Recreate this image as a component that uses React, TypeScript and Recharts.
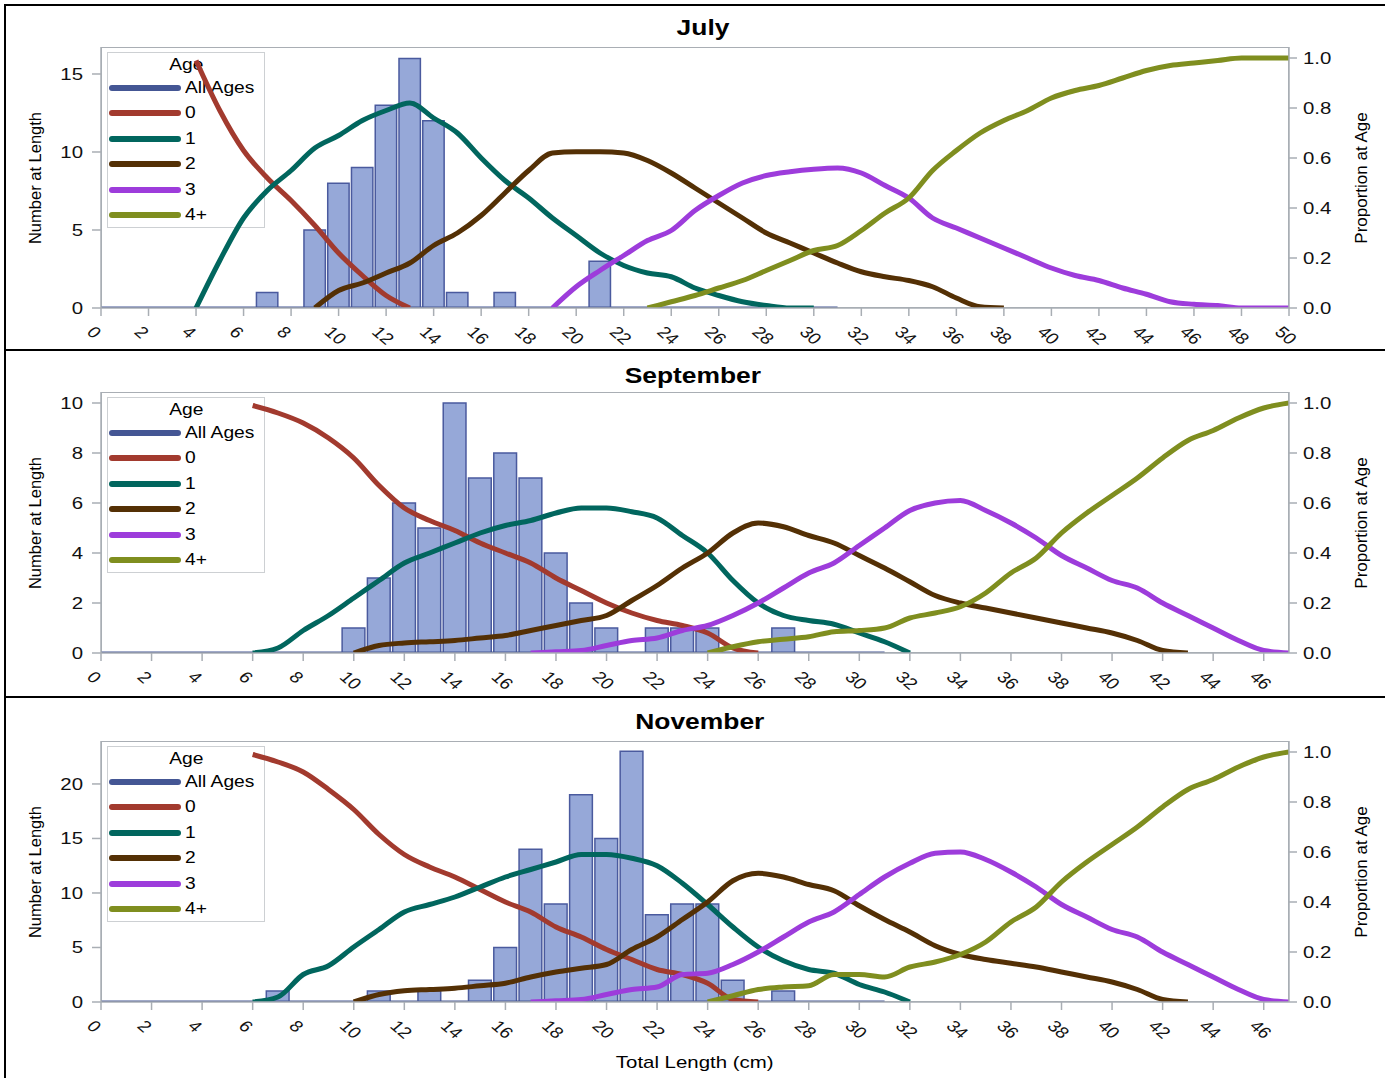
import React from 'react';
import { ComposedChart, Bar, Line, XAxis, YAxis } from 'recharts';

const FONT = "'Liberation Sans', Arial, Helvetica, sans-serif";
const AXIS = '#a9aeb4';
const STRETCH = 1.2;

const ageLabels = ['All Ages', '0', '1', '2', '3', '4+'];
const ageColors = ['#445694', '#a23a2e', '#01665e', '#543005', '#9d3cdb', '#7f8e1f'];

const julyTicks = [0, 2, 4, 6, 8, 10, 12, 14, 16, 18, 20, 22, 24, 26, 28, 30, 32, 34, 36, 38, 40, 42, 44, 46, 48, 50];
const sepNovTicks = [0, 2, 4, 6, 8, 10, 12, 14, 16, 18, 20, 22, 24, 26, 28, 30, 32, 34, 36, 38, 40, 42, 44, 46];
const propTicks = [0, 0.2, 0.4, 0.6, 0.8, 1.0];

// ---- July ----
const julyBarLen = [7, 9, 10, 11, 12, 13, 14, 15, 17, 21];
const julyBarCount = [1, 5, 8, 9, 13, 16, 12, 1, 1, 3];
const julyAllEnd = 31;
const julyAge0From = 4;
const julyAge0 = [0.99, 0.79, 0.63, 0.52, 0.43, 0.33, 0.22, 0.13, 0.05, 0];
const julyAge1From = 4;
const julyAge1 = [0, 0.19, 0.36, 0.47, 0.55, 0.64, 0.69, 0.75, 0.79, 0.82, 0.76, 0.7, 0.6, 0.51, 0.44, 0.36, 0.29, 0.22, 0.17, 0.14, 0.125, 0.08, 0.05, 0.025, 0.01, 0, 0];
const julyAge2From = 9;
const julyAge2 = [0, 0.07, 0.1, 0.14, 0.18, 0.25, 0.3, 0.37, 0.46, 0.55, 0.62, 0.625, 0.625, 0.62, 0.59, 0.54, 0.48, 0.42, 0.36, 0.3, 0.26, 0.22, 0.18, 0.145, 0.125, 0.11, 0.085, 0.04, 0.005, 0];
const julyAge3From = 19;
const julyAge3 = [0, 0.085, 0.15, 0.21, 0.27, 0.31, 0.39, 0.45, 0.5, 0.53, 0.545, 0.555, 0.56, 0.54, 0.49, 0.44, 0.36, 0.32, 0.28, 0.24, 0.2, 0.16, 0.13, 0.11, 0.08, 0.055, 0.025, 0.015, 0.01, 0, 0, 0];
const julyAge4From = 23;
const julyAge4 = [0, 0.025, 0.05, 0.08, 0.11, 0.15, 0.19, 0.23, 0.25, 0.31, 0.38, 0.44, 0.55, 0.63, 0.7, 0.75, 0.79, 0.84, 0.87, 0.89, 0.92, 0.95, 0.97, 0.98, 0.99, 1, 1, 1];

// ---- September ----
const sepBarLen = [10, 11, 12, 13, 14, 15, 16, 17, 18, 19, 20, 22, 23, 24, 27];
const sepBarCount = [1, 3, 6, 5, 10, 7, 8, 7, 4, 2, 1, 1, 1, 1, 1];
const sepAllEnd = 31;
const sepAge0From = 6;
const sepAge0 = [0.99, 0.96, 0.92, 0.86, 0.78, 0.67, 0.58, 0.53, 0.49, 0.44, 0.4, 0.36, 0.3, 0.25, 0.2, 0.16, 0.13, 0.11, 0.08, 0.02, 0];
const sepAge1From = 6;
const sepAge1 = [0, 0.02, 0.09, 0.15, 0.22, 0.29, 0.36, 0.4, 0.44, 0.48, 0.51, 0.53, 0.56, 0.58, 0.58, 0.565, 0.54, 0.47, 0.4, 0.29, 0.2, 0.15, 0.13, 0.115, 0.08, 0.045, 0];
const sepAge2From = 10;
const sepAge2 = [0, 0.03, 0.04, 0.045, 0.05, 0.06, 0.07, 0.09, 0.11, 0.13, 0.15, 0.21, 0.27, 0.34, 0.4, 0.48, 0.52, 0.505, 0.47, 0.44, 0.39, 0.34, 0.285, 0.23, 0.2, 0.18, 0.16, 0.14, 0.12, 0.1, 0.08, 0.05, 0.01, 0];
const sepAge3From = 17;
const sepAge3 = [0, 0.005, 0.01, 0.03, 0.05, 0.06, 0.09, 0.11, 0.15, 0.2, 0.26, 0.32, 0.36, 0.43, 0.5, 0.57, 0.6, 0.61, 0.57, 0.52, 0.46, 0.39, 0.34, 0.29, 0.26, 0.2, 0.15, 0.1, 0.05, 0.01, 0];
const sepAge4From = 24;
const sepAge4 = [0, 0.025, 0.045, 0.055, 0.065, 0.085, 0.09, 0.1, 0.14, 0.16, 0.185, 0.24, 0.32, 0.38, 0.48, 0.56, 0.63, 0.7, 0.78, 0.85, 0.89, 0.94, 0.98, 1];

// ---- November ----
const novBarLen = [7, 11, 13, 15, 16, 17, 18, 19, 20, 21, 22, 23, 24, 25, 27];
const novBarCount = [1, 1, 1, 2, 5, 14, 9, 19, 15, 23, 8, 9, 9, 2, 1];
const novAllEnd = 31;
const novAge0From = 6;
const novAge0 = [0.99, 0.96, 0.92, 0.85, 0.77, 0.67, 0.59, 0.54, 0.5, 0.45, 0.4, 0.36, 0.3, 0.26, 0.21, 0.17, 0.13, 0.11, 0.075, 0.01, 0];
const novAge1From = 6;
const novAge1 = [0, 0.02, 0.11, 0.145, 0.22, 0.29, 0.36, 0.39, 0.42, 0.46, 0.5, 0.53, 0.56, 0.59, 0.59, 0.575, 0.545, 0.475, 0.39, 0.3, 0.22, 0.165, 0.13, 0.115, 0.07, 0.04, 0];
const novAge2From = 10;
const novAge2 = [0, 0.03, 0.045, 0.05, 0.055, 0.065, 0.075, 0.1, 0.12, 0.135, 0.15, 0.21, 0.26, 0.33, 0.4, 0.485, 0.515, 0.5, 0.47, 0.445, 0.385, 0.33, 0.28, 0.225, 0.19, 0.17, 0.155, 0.14, 0.12, 0.1, 0.08, 0.05, 0.01, 0];
const novAge3From = 17;
const novAge3 = [0, 0.005, 0.01, 0.03, 0.05, 0.06, 0.11, 0.115, 0.15, 0.2, 0.26, 0.32, 0.36, 0.43, 0.5, 0.555, 0.595, 0.6, 0.57, 0.52, 0.46, 0.39, 0.34, 0.29, 0.26, 0.2, 0.15, 0.1, 0.05, 0.01, 0];
const novAge4From = 24;
const novAge4 = [0, 0.025, 0.05, 0.06, 0.065, 0.11, 0.11, 0.1, 0.14, 0.16, 0.19, 0.24, 0.32, 0.38, 0.48, 0.56, 0.63, 0.7, 0.78, 0.85, 0.89, 0.94, 0.98, 1];

const XTick = (props: any) => {
  const { x, y, payload } = props;
  return (
    <text
      transform={`translate(${x - 10.5},${y + 11}) scale(${STRETCH},1) rotate(45)`}
      dy="0.35em"
      textAnchor="start"
      fontSize={16}
      fontFamily={FONT}
      fill="#111"
    >
      {payload.value}
    </text>
  );
};

const LeftTick = (props: any) => {
  const { x, y, payload } = props;
  return (
    <text transform={`translate(${x},${y}) scale(${STRETCH},1)`} dy="0.35em" textAnchor="end" fontSize={17} fontFamily={FONT} fill="#111">
      {payload.value}
    </text>
  );
};

const RightTick = (props: any) => {
  const { x, y, payload } = props;
  return (
    <text transform={`translate(${x},${y}) scale(${STRETCH},1)`} dy="0.35em" textAnchor="start" fontSize={17} fontFamily={FONT} fill="#111">
      {Number(payload.value).toFixed(1)}
    </text>
  );
};

const Stretched: React.FC<{ children: React.ReactNode; size: number; bold?: boolean }> = ({ children, size, bold }) => (
  <span style={{ display: 'inline-block', transform: `scaleX(${STRETCH})`, fontSize: size, fontWeight: bold ? 'bold' : 'normal', fontFamily: FONT, whiteSpace: 'nowrap' }}>
    {children}
  </span>
);

const AgeLegend: React.FC<{ top: number }> = ({ top }) => (
  <div style={{ position: 'absolute', left: 107, top, width: 158, height: 176, border: '1.5px solid #cdd0d3', boxSizing: 'border-box' }}>
    <div style={{ position: 'absolute', left: 0, width: '100%', top: 2, textAlign: 'center', lineHeight: '20px' }}>
      <Stretched size={16}>Age</Stretched>
    </div>
    {ageLabels.map((label, i) => (
      <div key={label} style={{ position: 'absolute', left: 0, top: 35 + i * 25.4 - 10, height: 20, width: '100%' }}>
        <div style={{ position: 'absolute', left: 1, top: 7, width: 72, height: 6, borderRadius: 3, background: ageColors[i] }} />
        <div style={{ position: 'absolute', left: 77, top: 0, lineHeight: '20px' }}>
          <span style={{ display: 'inline-block', transform: `scaleX(${STRETCH})`, transformOrigin: 'left center', fontSize: 16, fontFamily: FONT, whiteSpace: 'nowrap' }}>{label}</span>
        </div>
      </div>
    ))}
  </div>
);

type PanelProps = {
  top: number;
  height: number;
  plotTop: number;
  title: string;
  titleX: number;
  titleY: number;
  xMax: number;
  xTicks: number[];
  leftMax: number;
  leftTicks: number[];
  barLen: number[];
  barCount: number[];
  allEnd: number;
  ageFrom: number[];
  ageValues: number[][];
  xLabel?: string;
};

const PLOT_LEFT = 101;
const PLOT_RIGHT = 1289;
const PLOT_H = 261;
const WIDTH = 1385;

const Panel: React.FC<PanelProps> = (p) => {
  const rows: any[] = [];
  for (let len = 0; len <= p.xMax; len++) {
    const row: any = { len };
    const bi = p.barLen.indexOf(len);
    row.count = bi >= 0 ? p.barCount[bi] : null;
    row.all = len <= p.allEnd ? 0 : null;
    p.ageValues.forEach((vals, k) => {
      const i = len - p.ageFrom[k];
      row['a' + k] = i >= 0 && i < vals.length ? vals[i] : null;
    });
    rows.push(row);
  }
  const plotW = PLOT_RIGHT - PLOT_LEFT;
  const barSize = plotW / p.xMax;
  const marginBottom = p.height - p.plotTop - PLOT_H - 42;

  return (
    <div style={{ position: 'absolute', left: 0, top: p.top, width: WIDTH, height: p.height }}>
      <div style={{ position: 'absolute', left: PLOT_LEFT, top: p.plotTop, width: plotW, height: PLOT_H, border: `1.5px solid ${AXIS}`, boxSizing: 'border-box' }} />
      <AgeLegend top={p.plotTop + 5} />
      <div style={{ position: 'absolute', left: 0, top: 0 }}>
        <ComposedChart width={WIDTH} height={p.height} data={rows} margin={{ top: p.plotTop, right: 0, bottom: marginBottom, left: 0 }}>
          <XAxis
            dataKey="len"
            type="number"
            domain={[0, p.xMax]}
            ticks={p.xTicks}
            interval={0}
            allowDataOverflow
            height={42}
            tickSize={8}
            tickMargin={2}
            axisLine={{ stroke: AXIS, strokeWidth: 1.5 }}
            tickLine={{ stroke: AXIS, strokeWidth: 1.5 }}
            tick={<XTick />}
          />
          <YAxis
            yAxisId="left"
            orientation="left"
            width={PLOT_LEFT}
            domain={[0, p.leftMax]}
            ticks={p.leftTicks}
            allowDataOverflow
            interval={0}
            tickSize={9}
            tickMargin={9}
            axisLine={{ stroke: AXIS, strokeWidth: 1.5 }}
            tickLine={{ stroke: AXIS, strokeWidth: 1.5 }}
            tick={<LeftTick />}
          />
          <YAxis
            yAxisId="right"
            orientation="right"
            width={WIDTH - PLOT_RIGHT}
            domain={[0, 1.044]}
            ticks={propTicks}
            allowDataOverflow
            interval={0}
            tickSize={8}
            tickMargin={6}
            axisLine={{ stroke: AXIS, strokeWidth: 1.5 }}
            tickLine={{ stroke: AXIS, strokeWidth: 1.5 }}
            tick={<RightTick />}
          />
          <Bar yAxisId="left" dataKey="count" barSize={barSize} fill="#96a8d8" stroke="#4a5a9e" strokeWidth={1.5} isAnimationActive={false} />
          <Line yAxisId="right" dataKey="all" stroke={ageColors[0]} strokeWidth={3} dot={false} type="linear" isAnimationActive={false} />
          {p.ageValues.map((_, k) => (
            <Line
              key={k}
              yAxisId="right"
              dataKey={'a' + k}
              stroke={ageColors[k + 1]}
              strokeWidth={5}
              dot={false}
              type="monotone"
              isAnimationActive={false}
            />
          ))}
        </ComposedChart>
      </div>
      <div style={{ position: 'absolute', left: p.titleX - 300, width: 600, top: p.titleY - 14, lineHeight: '28px', textAlign: 'center' }}>
        <Stretched size={22} bold>{p.title}</Stretched>
      </div>
      <div style={{ position: 'absolute', left: 35, top: p.plotTop + PLOT_H / 2, transform: 'translate(-50%, -50%) rotate(-90deg)', fontSize: 16.5, fontFamily: FONT, whiteSpace: 'nowrap' }}>
        Number at Length
      </div>
      <div style={{ position: 'absolute', left: 1362, top: p.plotTop + PLOT_H / 2, transform: 'translate(-50%, -50%) rotate(-90deg)', fontSize: 17, fontFamily: FONT, whiteSpace: 'nowrap' }}>
        Proportion at Age
      </div>
      {p.xLabel && (
        <div style={{ position: 'absolute', left: PLOT_LEFT, width: plotW, top: p.plotTop + PLOT_H + 51, lineHeight: '20px', textAlign: 'center' }}>
          <Stretched size={17}>{p.xLabel}</Stretched>
        </div>
      )}
    </div>
  );
};

const App: React.FC = () => (
  <div style={{ position: 'absolute', left: 0, top: 0, width: WIDTH, height: 1078, background: '#fff', overflow: 'hidden' }}>
    <Panel
      top={5}
      height={345}
      plotTop={42}
      title="July"
      titleX={703}
      titleY={23}
      xMax={50}
      xTicks={julyTicks}
      leftMax={16.73}
      leftTicks={[0, 5, 10, 15]}
      barLen={julyBarLen}
      barCount={julyBarCount}
      allEnd={julyAllEnd}
      ageFrom={[julyAge0From, julyAge1From, julyAge2From, julyAge3From, julyAge4From]}
      ageValues={[julyAge0, julyAge1, julyAge2, julyAge3, julyAge4]}
    />
    <Panel
      top={350}
      height={347}
      plotTop={42}
      title="September"
      titleX={693}
      titleY={26}
      xMax={47}
      xTicks={sepNovTicks}
      leftMax={10.44}
      leftTicks={[0, 2, 4, 6, 8, 10]}
      barLen={sepBarLen}
      barCount={sepBarCount}
      allEnd={sepAllEnd}
      ageFrom={[sepAge0From, sepAge1From, sepAge2From, sepAge3From, sepAge4From]}
      ageValues={[sepAge0, sepAge1, sepAge2, sepAge3, sepAge4]}
    />
    <Panel
      top={697}
      height={381}
      plotTop={44}
      title="November"
      titleX={700}
      titleY={25}
      xMax={47}
      xTicks={sepNovTicks}
      leftMax={23.94}
      leftTicks={[0, 5, 10, 15, 20]}
      barLen={novBarLen}
      barCount={novBarCount}
      allEnd={novAllEnd}
      ageFrom={[novAge0From, novAge1From, novAge2From, novAge3From, novAge4From]}
      ageValues={[novAge0, novAge1, novAge2, novAge3, novAge4]}
      xLabel="Total Length (cm)"
    />
    {/* panel frame lines */}
    <div style={{ position: 'absolute', left: 4, top: 4, width: WIDTH, height: 2, background: '#000' }} />
    <div style={{ position: 'absolute', left: 4, top: 349, width: WIDTH, height: 2, background: '#000' }} />
    <div style={{ position: 'absolute', left: 4, top: 696, width: WIDTH, height: 2, background: '#000' }} />
    <div style={{ position: 'absolute', left: 4, top: 4, width: 2, height: 1074, background: '#000' }} />
  </div>
);

export default App;
